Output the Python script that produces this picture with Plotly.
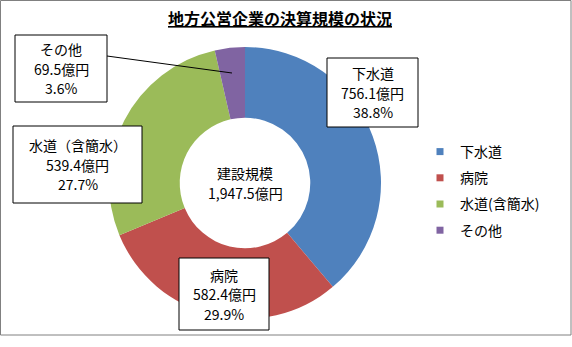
import plotly.graph_objects as go

# Data
categories = ["下水道", "病院", "水道（含簡水）", "その他"]
legend_names = ["下水道", "病院", "水道(含簡水)", "その他"]
values = [756.1, 582.4, 539.4, 69.5]
percents = ["38.8%", "29.9%", "27.7%", "3.6%"]
total_title = "建設規模"
total_label = "1,947.5億円"
colors = ["#4F81BD", "#C0504D", "#9BBB59", "#8064A2"]

W, H = 572, 347
FONT = "Noto Sans CJK JP"

def px(x):
    return x / W

def py(y):
    return 1 - y / H

cx, cy, r = 245, 183, 136

fig = go.Figure()
fig.add_trace(go.Pie(
    labels=legend_names,
    values=values,
    hole=0.48,
    sort=False,
    direction="clockwise",
    rotation=0,
    marker=dict(colors=colors, line=dict(width=0)),
    textinfo="none",
    hoverinfo="label+value+percent",
    showlegend=False,
    domain=dict(x=[px(cx - r), px(cx + r)], y=[py(cy + r), py(cy - r)]),
))

# Legend entries (one group each so the gap between them can be set)
for name, c in zip(legend_names, colors):
    fig.add_trace(go.Scatter(
        x=[None], y=[None], mode="markers", name=name,
        legendgroup=name,
        marker=dict(symbol="square", size=7, color=c),
        hoverinfo="skip",
    ))

# Data-label boxes: (center x, center y, width, height) in pixels
boxes = [
    (372.5, 92.5, 91, 69),
    (224, 294, 90, 72),
    (77.5, 164.5, 129, 77),
    (61, 68.5, 92, 67),
]

shapes = [
    # leader line for the small slice
    dict(type="line", xref="paper", yref="paper",
         x0=px(107), y0=py(56), x1=px(232), y1=py(73),
         line=dict(color="black", width=1)),
]
annotations = []
line_step = 19.5
for name, v, p, (bx, by, bw, bh) in zip(categories, values, percents, boxes):
    shapes.append(dict(
        type="rect", xref="paper", yref="paper",
        x0=px(bx - bw / 2), x1=px(bx + bw / 2),
        y0=py(by + bh / 2), y1=py(by - bh / 2),
        fillcolor="white", line=dict(color="black", width=1), layer="above",
    ))
    for i, t in enumerate([name, f"{v:.1f}億円", p]):
        annotations.append(dict(
            xref="paper", yref="paper", x=px(bx), y=py(by + (i - 1) * line_step),
            xanchor="center", yanchor="middle",
            text=t, showarrow=False,
            font=dict(family=FONT, size=14, color="black"),
        ))

# Center total label
for i, t in enumerate([total_title, total_label]):
    annotations.append(dict(
        xref="paper", yref="paper", x=px(cx), y=py(cy - 10 + i * 20),
        xanchor="center", yanchor="middle",
        text=t, showarrow=False,
        font=dict(family=FONT, size=14, color="black"),
    ))

# Title
annotations.append(dict(
    xref="paper", yref="paper", x=px(280), y=py(18),
    xanchor="center", yanchor="middle",
    text="<b><u>地方公営企業の決算規模の状況</u></b>",
    showarrow=False,
    font=dict(family=FONT, size=16, color="black"),
))

# chart frame
shapes.append(dict(type="rect", xref="paper", yref="paper",
                   x0=px(0.5), y0=py(335), x1=px(571), y1=py(0.5),
                   line=dict(color="#808080", width=1)))

fig.update_layout(
    width=W, height=H,
    margin=dict(l=0, r=0, t=0, b=0),
    paper_bgcolor="white",
    plot_bgcolor="white",
    showlegend=True,
    xaxis=dict(visible=False),
    yaxis=dict(visible=False),
    legend=dict(
        x=px(420), y=py(136), xanchor="left", yanchor="top",
        font=dict(family=FONT, size=14, color="black"),
        itemwidth=30, tracegroupgap=5,
        bgcolor="rgba(0,0,0,0)",
    ),
    annotations=annotations,
    shapes=shapes,
)

fig.write_html("out.html")
